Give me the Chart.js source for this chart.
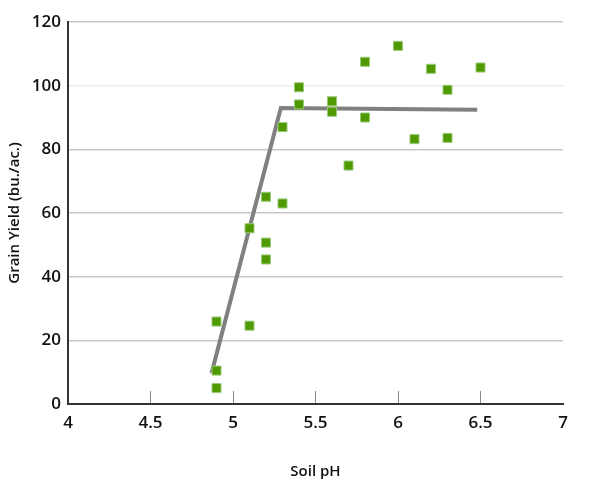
<!DOCTYPE html>
<html lang="en">

<head>
  <meta charset="UTF-8">
  <title>Grain Yield vs Soil pH</title>
  <script src="https://cdn.jsdelivr.net/npm/chart.js"></script>
  <style>
    body {
      margin: 0;
      background: #fff;
    }
  </style>
</head>

<body>
  <canvas id="yieldChart" width="606" height="500"></canvas>
  <script>
    // observed field samples
    const soilPh = [4.9, 4.9, 4.9, 5.1, 5.1, 5.2, 5.2, 5.2, 5.3, 5.3, 5.4, 5.4,
      5.6, 5.6, 5.7, 5.8, 5.8, 6.0, 6.1, 6.2, 6.3, 6.3, 6.5];
    const grainYield = [25.9, 10.5, 5.0, 55.2, 24.6, 65.1, 50.7, 45.4, 87.0, 63.0, 99.5, 94.1,
      95.1, 91.8, 74.9, 107.5, 90.0, 112.5, 83.2, 105.3, 98.7, 83.6, 105.7];

    // fitted linear-plateau model
    const fitPh = [4.87, 5.29, 6.48];
    const fitYield = [9.7, 93.0, 92.4];

    const xTicks = [4, 4.5, 5, 5.5, 6, 6.5, 7];

    const tickFont = { family: 'Open Sans', size: 17, weight: '600' };
    const titleFont = { family: 'Open Sans', size: 15, weight: '600' };

    const points = soilPh.map((ph, i) => ({ x: ph, y: grainYield[i] }));
    const fitLine = fitPh.map((ph, i) => ({ x: ph, y: fitYield[i] }));

    const ctx = document.getElementById('yieldChart').getContext('2d');

    new Chart(ctx, {
      type: 'scatter',
      data: {
        datasets: [{
          label: 'Samples',
          data: points,
          pointStyle: 'rect',
          pointRadius: 6.4,
          pointBackgroundColor: '#4f9a00',
          pointBorderColor: '#9cca7c',
          pointBorderWidth: 1,
          order: 1,
        }, {
          label: 'Fit',
          type: 'line',
          data: fitLine,
          borderColor: '#808080',
          borderWidth: 4,
          pointRadius: 0,
          fill: false,
          order: 2,
        }]
      },
      options: {
        responsive: false,
        animation: false,
        layout: {
          padding: { left: 0, right: 43, top: 22, bottom: 0 }
        },
        plugins: {
          legend: { display: false },
          tooltip: { enabled: false },
        },
        scales: {
          x: {
            type: 'linear',
            min: 4,
            max: 7,
            afterBuildTicks: (scale) => {
              scale.ticks = xTicks.map(v => ({ value: v }));
            },
            afterFit: (scale) => {
              scale.height = 96;
            },
            border: { color: '#333', width: 2 },
            grid: {
              drawOnChartArea: false,
              tickLength: -13,
              tickWidth: 1,
              tickColor: (c) => (c.tick && (c.tick.value === 4 || c.tick.value === 7)) ? 'rgba(0,0,0,0)' : '#888',
            },
            ticks: {
              color: '#111',
              font: tickFont,
              padding: 22,
              maxRotation: 0,
              callback: (v) => String(v),
            },
            title: {
              display: true,
              text: 'Soil pH',
              color: '#111',
              font: titleFont,
              padding: { top: 0, bottom: 19 },
            },
          },
          y: {
            min: 0,
            max: 120,
            afterFit: (scale) => {
              scale.width = 68;
            },
            border: { color: '#333', width: 2 },
            grid: {
              drawTicks: false,
              lineWidth: 1.5,
              color: (c) => c.tick && c.tick.value === 100 ? '#eeeeee' : '#c8c8c8',
            },
            ticks: {
              stepSize: 20,
              color: '#111',
              font: tickFont,
              padding: 7,
            },
            title: {
              display: true,
              text: 'Grain Yield (bu./ac.)',
              color: '#111',
              font: titleFont,
              padding: { top: 6, bottom: 0 },
            },
          },
        },
      },
    });
  </script>
</body>

</html>
